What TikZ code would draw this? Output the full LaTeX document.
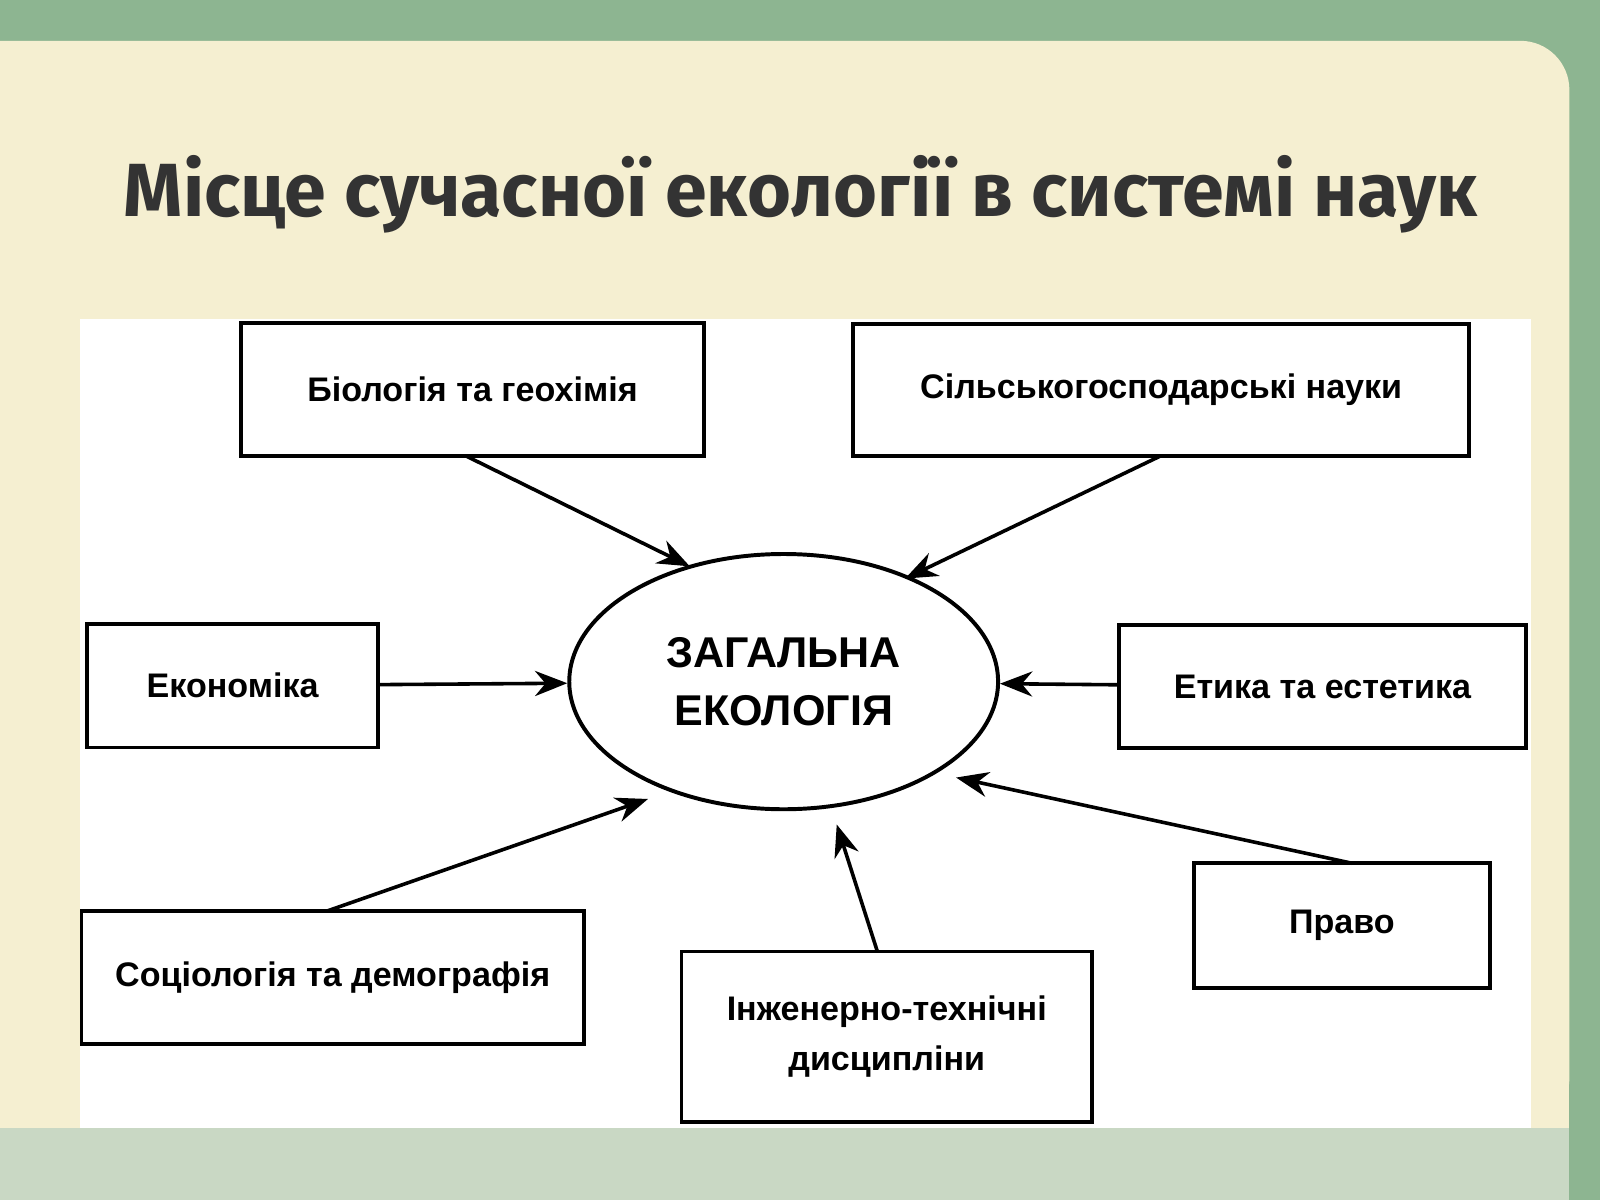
\documentclass[tikz,border=0pt]{standalone}
\usepackage{fontspec}
\setmainfont{Liberation Sans}
\newfontfamily\titlefont{Fira Sans}
\usetikzlibrary{arrows.meta,shapes.geometric}
\definecolor{bggreen}{HTML}{8DB591}
\definecolor{cream}{HTML}{F5EFD1}
\definecolor{palegreen}{HTML}{C9D8C4}
\tikzset{
  box/.style={draw=black,line width=1.1pt,fill=white,inner sep=0pt,font=\bfseries\fontsize{9.5}{12}\selectfont,align=center},
  arr/.style={line width=1pt,-{Stealth[length=9pt,width=7pt]}}
}
\begin{document}
\begin{tikzpicture}[x=0.01cm,y=-0.01cm]
\useasboundingbox (0,0) rectangle (1568,1176);
\fill[bggreen] (0,0) rectangle (1568,1176);
\fill[palegreen] (0,1105) rectangle (1538,1176);
\fill[cream,rounded corners=0.48cm] (-60,1105) -- (-60,40) -- (1538,40) -- (1538,1105) -- cycle;
\fill[cream] (0,1000) rectangle (1538,1105);
\fill[white] (78,313) rectangle (1500,1105);
\node[text=black!80,font=\titlefont\bfseries\fontsize{21}{24}\selectfont] (title) at (785,190) {Місце сучасної екології в системі наук};
\node[draw,ellipse,line width=1.1pt,minimum width=4.2cm,minimum height=2.5cm,font=\bfseries\fontsize{12}{16}\selectfont,align=center,inner sep=0pt] (e) at (768,668) {ЗАГАЛЬНА\\ЕКОЛОГІЯ};
\node[box,minimum width=4.54cm,minimum height=1.30cm] (bio) at (463,382) {Біологія та геохімія};
\node[box,minimum width=6.03cm,minimum height=1.29cm] (sil) at (1138,382) {Сільськогосподарські науки};
\node[box,minimum width=2.85cm,minimum height=1.21cm] (eko) at (228,672) {Економіка};
\node[box,minimum width=3.99cm,minimum height=1.20cm] (eth) at (1296,673) {Етика та естетика};
\node[box,minimum width=4.92cm,minimum height=1.30cm] (soc) at (326,958) {Соціологія та демографія};
\node[box,minimum width=4.02cm,minimum height=1.67cm] (inj) at (869,1016) {Інженерно-технічні\\[2pt]дисципліни};
\node[box,minimum width=2.90cm,minimum height=1.23cm] (pra) at (1315,907) {Право};
\draw[arr] (457,447) -- (676,555);
\draw[arr] (1137,447) -- (887,567);
\draw[arr] (eko) -- (e);
\draw[arr] (eth) -- (e);
\draw[arr] (320,893) -- (635,783);
\draw[arr] (860,933) -- (820,808);
\draw[arr] (1325,846) -- (937,762);
\end{tikzpicture}
\end{document}
